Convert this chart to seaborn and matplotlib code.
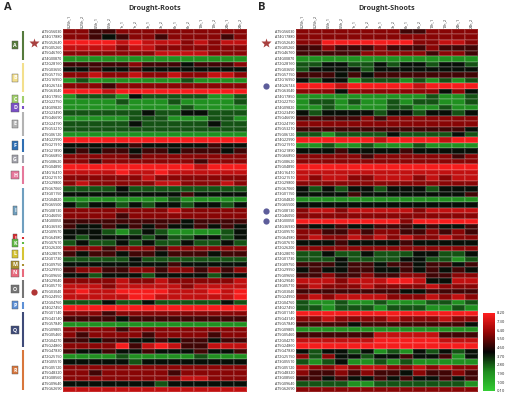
import matplotlib
matplotlib.use("Agg")
import matplotlib.pyplot as plt
import matplotlib.transforms as mtrans
from matplotlib.colors import LinearSegmentedColormap
import pandas as pd
import seaborn as sns

# gene ids (same order in both panels)
genes = [
    "AT5G56030", "AT4G17880", "AT5G52640", "AT5G05260", "AT5G46760", "AT4G00870",
    "AT2G28160", "AT5G03650", "AT5G57150", "AT2G16950", "AT4G26744", "AT5G63040",
    "AT4G17850", "AT2G22750",
    "AT4G09820",
    "AT2G23490", "AT5G46690", "AT2G24190", "AT5G53210", "AT5G06120",
    "AT4G22990", "AT5G21910", "AT3G21890",
    "AT5G66850", "AT5G08620",
    "AT5G04890", "AT4G16410", "AT2G21510", "AT2G29800",
    "AT5G67060", "AT3G01150", "AT2G04820", "AT5G65500", "AT5G08130", "AT2G46050",
    "AT4G00050", "AT4G36930", "AT2G09570",
    "AT5G64980",
    "AT5G07610",
    "AT2G26200", "AT4G28070", "AT2G01730",
    "AT3G09750",
    "AT2G29950", "AT5G09650",
    "AT4G29040", "AT3G05710", "AT5G03040", "AT5G24950",
    "AT2G04760", "AT4G27450",
    "AT5G01140", "AT5G43140", "AT5G57840", "AT5G09805", "AT5G05460", "AT2G04270",
    "AT5G24860",
    "AT5G47830", "AT2G25150", "AT3G05510", "AT5G05120", "AT5G48320", "AT3G08560",
    "AT5G09640", "AT5G62690",
]

samples = ["0.25h_1", "0.25h_2", "0.5h_1", "0.5h_2", "1h_1", "1h_2", "3h_1",
           "3h_2", "6h_1", "6h_2", "12h_1", "12h_2", "24h_1", "24h_2"]

roots = [
    [6, 6, 5, 5, 6, 6, 6, 6, 6, 6, 6, 6, 6, 6],
    [6, 6, 5, 4, 5, 6, 6, 5, 6, 6, 6, 6, 5, 6],
    [8, 8, 8, 8, 7, 8, 7, 7, 7, 6, 7, 6, 7, 7],
    [7, 7, 7, 7, 6, 7, 7, 6, 6, 6, 6, 6, 6, 6],
    [6, 6, 6, 6, 6, 6, 6, 7, 7, 7, 7, 6, 6, 6],
    [2, 2, 2, 2, 2, 2, 2, 2, 2, 2, 2, 2, 2, 2],
    [5, 5, 5, 5, 5, 6, 5, 5, 5, 4, 5, 5, 5, 6],
    [4, 4, 5, 4, 4, 5, 4, 4, 4, 4, 4, 4, 4, 4],
    [6, 6, 7, 6, 6, 7, 6, 6, 7, 6, 6, 7, 7, 6],
    [2, 3, 2, 2, 2, 2, 2, 2, 2, 3, 2, 2, 2, 2],
    [6, 6, 6, 5, 6, 6, 6, 6, 6, 6, 6, 6, 6, 6],
    [8, 8, 8, 7, 8, 8, 8, 8, 8, 8, 8, 8, 8, 8],
    [2, 3, 3, 3, 2, 4, 3, 3, 3, 3, 3, 2, 2, 3],
    [2, 2, 2, 2, 3, 2, 2, 2, 3, 2, 2, 2, 2, 3],
    [2, 2, 2, 2, 2, 2, 2, 2, 2, 3, 2, 2, 2, 2],
    [3, 3, 3, 3, 3, 3, 4, 3, 3, 4, 4, 3, 3, 3],
    [2, 2, 2, 2, 2, 3, 3, 3, 2, 2, 2, 3, 3, 2],
    [3, 3, 3, 3, 3, 4, 3, 3, 3, 3, 3, 4, 3, 3],
    [3, 3, 3, 3, 3, 3, 3, 3, 3, 3, 3, 3, 3, 3],
    [2, 2, 2, 2, 2, 2, 2, 2, 2, 2, 2, 2, 2, 2],
    [8, 8, 8, 8, 8, 8, 8, 8, 8, 8, 8, 8, 8, 8],
    [4, 4, 4, 4, 4, 5, 4, 4, 4, 4, 4, 5, 4, 4],
    [4, 5, 4, 5, 5, 4, 5, 5, 4, 5, 5, 5, 4, 5],
    [6, 6, 6, 6, 6, 5, 6, 6, 6, 6, 6, 6, 6, 6],
    [6, 6, 5, 6, 6, 6, 6, 6, 6, 6, 5, 6, 6, 6],
    [8, 8, 8, 8, 8, 8, 8, 8, 8, 8, 7, 8, 8, 8],
    [7, 7, 7, 7, 8, 7, 7, 8, 7, 7, 7, 7, 7, 7],
    [6, 6, 6, 6, 6, 6, 7, 6, 6, 6, 6, 6, 6, 6],
    [6, 7, 6, 6, 6, 6, 6, 7, 7, 6, 6, 6, 7, 6],
    [3, 3, 3, 3, 4, 3, 3, 3, 3, 3, 3, 3, 3, 3],
    [4, 4, 4, 4, 4, 4, 4, 4, 4, 5, 4, 4, 4, 4],
    [2, 2, 2, 2, 2, 2, 2, 2, 3, 2, 2, 2, 2, 2],
    [4, 3, 4, 4, 3, 4, 3, 4, 4, 3, 4, 4, 3, 4],
    [6, 6, 6, 6, 6, 6, 6, 6, 7, 6, 6, 6, 6, 6],
    [6, 6, 6, 6, 5, 6, 6, 6, 6, 6, 6, 6, 6, 6],
    [5, 5, 5, 5, 5, 5, 5, 5, 5, 4, 5, 5, 5, 5],
    [5, 4, 4, 5, 4, 5, 4, 5, 4, 4, 5, 4, 5, 4],
    [4, 4, 4, 3, 2, 3, 4, 3, 2, 2, 2, 2, 3, 4],
    [4, 3, 4, 4, 4, 4, 3, 4, 3, 3, 4, 4, 3, 4],
    [3, 4, 3, 3, 4, 3, 4, 3, 3, 4, 3, 3, 4, 3],
    [6, 6, 6, 5, 6, 6, 6, 5, 6, 6, 6, 6, 6, 6],
    [5, 4, 5, 5, 4, 5, 5, 4, 5, 5, 5, 4, 5, 5],
    [3, 3, 3, 3, 3, 4, 3, 3, 3, 3, 3, 3, 3, 3],
    [4, 4, 4, 4, 4, 4, 4, 4, 5, 4, 4, 4, 4, 4],
    [5, 6, 6, 5, 5, 6, 6, 5, 6, 6, 5, 6, 5, 6],
    [4, 4, 3, 4, 4, 4, 3, 4, 4, 4, 4, 3, 4, 4],
    [6, 6, 6, 6, 7, 6, 6, 7, 6, 6, 6, 6, 6, 7],
    [7, 7, 7, 6, 7, 7, 7, 7, 7, 6, 7, 7, 7, 7],
    [7, 8, 7, 7, 8, 8, 8, 8, 7, 7, 7, 8, 7, 8],
    [7, 7, 7, 7, 7, 8, 8, 7, 7, 7, 7, 7, 7, 8],
    [3, 3, 3, 4, 3, 3, 4, 3, 3, 3, 3, 3, 4, 3],
    [8, 8, 8, 8, 8, 8, 8, 8, 8, 8, 8, 8, 8, 8],
    [6, 6, 6, 5, 6, 6, 6, 6, 6, 6, 6, 6, 6, 6],
    [5, 5, 5, 5, 4, 5, 5, 5, 5, 5, 5, 5, 5, 5],
    [2, 2, 2, 2, 2, 2, 2, 2, 2, 2, 2, 2, 2, 2],
    [6, 6, 6, 6, 5, 6, 6, 6, 6, 6, 6, 6, 6, 6],
    [6, 5, 6, 6, 6, 6, 5, 6, 6, 6, 6, 5, 6, 6],
    [5, 5, 4, 5, 5, 4, 4, 5, 4, 5, 5, 4, 5, 5],
    [6, 6, 6, 6, 8, 5, 7, 8, 7, 5, 5, 7, 7, 7],
    [5, 4, 4, 5, 4, 4, 5, 4, 4, 4, 5, 4, 4, 5],
    [2, 2, 2, 2, 3, 2, 2, 2, 2, 2, 3, 2, 2, 2],
    [4, 4, 4, 4, 4, 3, 4, 4, 4, 4, 4, 4, 4, 4],
    [6, 6, 6, 6, 6, 6, 6, 6, 6, 6, 6, 6, 6, 6],
    [6, 6, 5, 6, 6, 6, 6, 6, 5, 6, 6, 6, 6, 6],
    [6, 6, 6, 6, 6, 6, 6, 6, 6, 7, 7, 6, 6, 6],
    [4, 4, 4, 4, 4, 4, 4, 3, 4, 4, 4, 4, 4, 4],
    [7, 7, 7, 7, 7, 7, 7, 7, 7, 7, 7, 7, 7, 7],
]

shoots = [
    [6, 6, 6, 6, 6, 6, 6, 6, 5, 5, 6, 6, 6, 6],
    [6, 6, 6, 6, 6, 6, 6, 6, 6, 6, 6, 6, 6, 6],
    [6, 6, 8, 8, 8, 8, 8, 8, 8, 6, 6, 7, 7, 6],
    [5, 5, 6, 5, 5, 5, 6, 5, 5, 5, 6, 5, 5, 5],
    [5, 5, 5, 5, 5, 6, 6, 6, 6, 6, 5, 6, 6, 5],
    [2, 2, 2, 2, 2, 2, 2, 2, 2, 2, 2, 2, 2, 2],
    [3, 3, 4, 4, 3, 3, 4, 3, 4, 4, 3, 4, 4, 3],
    [3, 4, 4, 4, 4, 3, 4, 4, 4, 4, 4, 4, 4, 4],
    [5, 5, 5, 4, 5, 4, 5, 5, 5, 5, 5, 5, 5, 5],
    [4, 3, 4, 4, 2, 3, 3, 3, 2, 3, 2, 3, 2, 3],
    [8, 8, 8, 7, 8, 8, 8, 8, 8, 7, 8, 8, 8, 8],
    [6, 6, 6, 4, 6, 6, 6, 6, 6, 6, 6, 4, 6, 4],
    [2, 2, 2, 2, 2, 2, 2, 2, 2, 2, 3, 2, 2, 3],
    [2, 3, 3, 2, 3, 2, 2, 3, 2, 3, 3, 2, 2, 3],
    [2, 2, 3, 2, 2, 2, 2, 3, 3, 2, 2, 3, 2, 2],
    [4, 3, 4, 4, 4, 4, 3, 4, 4, 3, 4, 4, 3, 4],
    [5, 5, 5, 5, 5, 6, 5, 6, 6, 6, 6, 6, 6, 6],
    [6, 6, 6, 6, 6, 6, 6, 6, 6, 6, 6, 6, 6, 6],
    [5, 5, 5, 5, 5, 5, 5, 5, 5, 5, 5, 5, 5, 4],
    [3, 3, 2, 3, 3, 3, 3, 4, 3, 3, 3, 3, 4, 3],
    [8, 8, 8, 8, 8, 8, 7, 8, 8, 8, 8, 7, 8, 8],
    [2, 2, 3, 2, 2, 3, 2, 2, 2, 3, 2, 2, 2, 2],
    [4, 4, 4, 5, 4, 4, 4, 4, 5, 4, 4, 4, 4, 4],
    [6, 6, 6, 6, 6, 5, 6, 6, 6, 6, 6, 6, 5, 6],
    [6, 6, 6, 6, 6, 6, 6, 6, 6, 6, 6, 6, 6, 6],
    [8, 8, 8, 8, 8, 8, 8, 8, 8, 8, 8, 8, 8, 8],
    [7, 7, 7, 7, 7, 7, 7, 7, 7, 7, 7, 7, 7, 7],
    [7, 6, 7, 7, 6, 6, 7, 7, 7, 6, 7, 6, 7, 7],
    [6, 6, 6, 6, 6, 6, 6, 6, 6, 6, 6, 6, 6, 6],
    [4, 3, 4, 3, 4, 4, 3, 4, 4, 4, 3, 4, 4, 4],
    [4, 4, 4, 4, 5, 4, 4, 4, 4, 4, 4, 4, 4, 5],
    [2, 2, 2, 2, 2, 2, 2, 2, 2, 2, 2, 2, 2, 2],
    [4, 4, 4, 4, 4, 4, 4, 4, 4, 4, 4, 4, 4, 4],
    [6, 7, 7, 6, 7, 7, 7, 7, 7, 6, 7, 7, 7, 7],
    [6, 6, 6, 6, 6, 6, 6, 6, 6, 6, 6, 6, 6, 6],
    [8, 8, 8, 8, 8, 8, 8, 8, 6, 8, 8, 8, 8, 8],
    [5, 4, 4, 5, 4, 4, 5, 5, 5, 4, 5, 4, 4, 5],
    [6, 6, 5, 5, 6, 5, 6, 6, 5, 5, 6, 5, 6, 5],
    [6, 7, 6, 6, 7, 6, 7, 6, 7, 6, 6, 7, 6, 6],
    [4, 4, 4, 5, 4, 4, 4, 4, 5, 4, 4, 4, 4, 4],
    [6, 6, 6, 6, 6, 6, 6, 6, 6, 6, 6, 6, 6, 6],
    [3, 3, 4, 3, 3, 4, 3, 3, 3, 4, 4, 3, 3, 4],
    [3, 3, 3, 4, 3, 3, 3, 3, 4, 4, 3, 3, 2, 3],
    [5, 5, 5, 4, 5, 5, 4, 5, 5, 4, 5, 5, 4, 5],
    [4, 5, 4, 4, 5, 5, 4, 4, 5, 4, 5, 4, 5, 4],
    [5, 5, 6, 5, 5, 6, 5, 5, 6, 6, 5, 5, 6, 6],
    [7, 7, 7, 6, 7, 7, 7, 8, 8, 7, 4, 4, 7, 7],
    [6, 7, 6, 6, 6, 7, 6, 6, 6, 6, 7, 6, 6, 6],
    [5, 5, 5, 5, 5, 5, 5, 5, 4, 4, 5, 5, 5, 5],
    [6, 7, 6, 7, 7, 7, 7, 6, 6, 6, 7, 6, 7, 6],
    [3, 2, 2, 3, 2, 2, 3, 2, 2, 2, 3, 3, 2, 3],
    [3, 3, 2, 3, 3, 3, 2, 3, 3, 3, 2, 2, 3, 2],
    [8, 8, 8, 8, 8, 8, 8, 8, 8, 8, 8, 8, 8, 8],
    [6, 6, 7, 6, 6, 6, 6, 7, 6, 6, 6, 7, 6, 6],
    [5, 5, 5, 5, 4, 5, 5, 5, 5, 5, 5, 5, 5, 4],
    [2, 2, 2, 2, 2, 2, 2, 2, 2, 2, 2, 2, 2, 2],
    [5, 5, 5, 5, 5, 5, 7, 7, 7, 7, 7, 5, 5, 5],
    [7, 7, 7, 7, 7, 7, 8, 8, 8, 8, 8, 7, 7, 7],
    [8, 8, 8, 8, 8, 8, 8, 8, 8, 8, 8, 8, 8, 8],
    [4, 3, 4, 4, 3, 4, 2, 3, 2, 4, 3, 4, 3, 4],
    [6, 3, 6, 4, 4, 3, 4, 4, 5, 4, 4, 5, 2, 4],
    [3, 2, 3, 4, 2, 2, 3, 2, 3, 2, 2, 2, 2, 2],
    [7, 6, 6, 7, 6, 7, 7, 6, 6, 7, 6, 7, 6, 6],
    [6, 5, 5, 6, 5, 6, 5, 5, 4, 6, 5, 5, 6, 5],
    [5, 5, 4, 5, 4, 4, 5, 4, 5, 4, 4, 5, 4, 5],
    [3, 3, 3, 3, 2, 2, 3, 3, 3, 3, 3, 3, 3, 2],
    [6, 6, 6, 6, 6, 6, 6, 6, 6, 6, 6, 6, 6, 6],
]

group_names = list("ABCDEFGHIJKLMNOPQR")
group_sizes = [6, 6, 2, 1, 5, 3, 2, 4, 9, 1, 1, 3, 1, 2, 4, 2, 7, 8]
group_colors = ["#557a3c", "#f3df8c", "#9fcd6a", "#7a4fc6", "#b3b3b3", "#2f6fb3",
                "#a2a2ab", "#e6789b", "#6f9fbf", "#d92a30", "#5fb843", "#d6c434",
                "#a88f30", "#e86a7c", "#757575", "#5d90d6", "#3e4a78", "#d8763c"]

cbar_ticks = [8.2, 7.3, 6.4, 5.5, 4.6, 3.7, 2.8, 1.9, 1.0, 0.1]

star_rows_roots = [2]
circle_rows_roots = [48]
star_rows_shoots = [2]
circle_rows_shoots = [10, 33, 35]

W, H = 515, 407

sns.set_theme(style="white")
plt.rcParams["font.family"] = ["Open Sans", "DejaVu Sans"]

fig = plt.figure(figsize=(W / 100, H / 100), dpi=100)
fig.patch.set_facecolor("white")


def box(x0, y0, x1, y1):
    return [x0 / W, 1 - y1 / H, (x1 - x0) / W, (y1 - y0) / H]


ax_a = fig.add_axes(box(63, 29, 247, 392))
ax_b = fig.add_axes(box(296, 29, 478, 392))
cax = fig.add_axes(box(483, 313, 495, 391))

cmap = LinearSegmentedColormap.from_list(
    "gkr",
    [(0.0, (0.2, 0.8, 0.2)), (0.25, (0.12, 0.55, 0.12)), (0.5, (0.02, 0.02, 0.02)),
     (0.75, (0.58, 0.02, 0.02)), (1.0, (1.0, 0.12, 0.12))])

df_a = pd.DataFrame(roots, index=genes, columns=samples)
df_b = pd.DataFrame(shoots, index=genes, columns=samples)

common = dict(cmap=cmap, vmin=0.1, vmax=8.2, linewidths=0.3,
              linecolor=(1, 1, 1, 0.12), xticklabels=True, yticklabels=True)
sns.heatmap(df_a, ax=ax_a, cbar=False, **common)
sns.heatmap(df_b, ax=ax_b, cbar=True, cbar_ax=cax,
            cbar_kws={"ticks": cbar_ticks, "format": "%.2f"}, **common)

for ax in (ax_a, ax_b):
    ax.xaxis.tick_top()
    ax.tick_params(axis="x", length=0, pad=1, labelsize=2.6, labelrotation=90)
    ax.tick_params(axis="y", length=0, pad=1, labelsize=2.6, labelrotation=0)
    ax.set_xlabel("")
    ax.set_ylabel("")

cax.tick_params(length=0, pad=1.5, labelsize=3)
cax.yaxis.set_ticks_position("right")

# titles and panel letters
fig.text(155 / W, 1 - 9 / H, "Drought-Roots", ha="center", va="center",
         fontsize=5.2, fontweight="bold", color="#333333")
fig.text(387 / W, 1 - 9 / H, "Drought-Shoots", ha="center", va="center",
         fontsize=5.2, fontweight="bold", color="#333333")
fig.text(8 / W, 1 - 8 / H, "A", ha="center", va="center", fontsize=8, fontweight="bold")
fig.text(262 / W, 1 - 8 / H, "B", ha="center", va="center", fontsize=8, fontweight="bold")

# group bars and letter boxes next to panel A
tr_a = mtrans.blended_transform_factory(fig.transFigure, ax_a.transData)
start = 0
for name, size, color in zip(group_names, group_sizes, group_colors):
    ax_a.plot([23 / W, 23 / W], [start + 0.3, start + size - 0.3], transform=tr_a,
              color=color, lw=1.5, solid_capstyle="butt", clip_on=False)
    ax_a.text(15 / W, start + size / 2, name, transform=tr_a, ha="center", va="center",
              fontsize=3.8, fontweight="bold", color="white",
              bbox=dict(boxstyle="square,pad=0.3", fc=color, ec="#555555", lw=0.3))
    start += size

for r in star_rows_roots:
    ax_a.plot(34 / W, r + 0.5, marker="*", ms=7, color="#a8403f", mec="none",
              transform=tr_a, clip_on=False)
for r in circle_rows_roots:
    ax_a.plot(34 / W, r + 0.5, marker="o", ms=4.5, color="#b03535", mec="none",
              transform=tr_a, clip_on=False)

tr_b = mtrans.blended_transform_factory(fig.transFigure, ax_b.transData)
for r in star_rows_shoots:
    ax_b.plot(266 / W, r + 0.5, marker="*", ms=7, color="#a8403f", mec="none",
              transform=tr_b, clip_on=False)
for r in circle_rows_shoots:
    ax_b.plot(266 / W, r + 0.5, marker="o", ms=4.5, color="#5d5d9a", mec="none",
              transform=tr_b, clip_on=False)

fig.savefig("out.png", dpi=100, facecolor="white")
